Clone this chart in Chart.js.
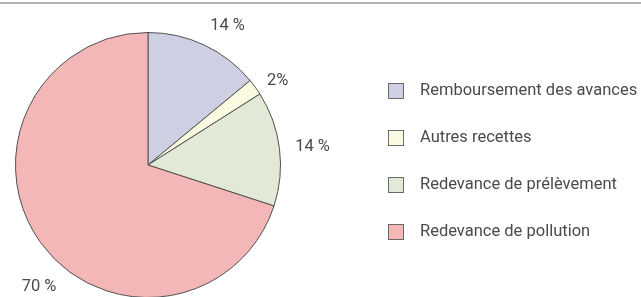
<!DOCTYPE html>
<html>
<head>
<meta charset="utf-8">
<script src="https://cdn.jsdelivr.net/npm/chart.js@4"></script>
<style>
  html, body { margin: 0; padding: 0; background: #fff; overflow: hidden; width: 641px; height: 297px; }
  #wrap { position: absolute; left: 0; top: 0; width: 641px; height: 300px; }
</style>
</head>
<body>
<div id="wrap"><canvas id="c"></canvas></div>
<script>
const categories = ["Remboursement des avances", "Autres recettes", "Redevance de prélèvement", "Redevance de pollution"];
const shares = [14, 2, 14, 70];
const valueLabels = ["14 %", "2%", "14 %", "70 %"];

const sliceColors = ["#cfcfe4", "#fbfbe2", "#e2e9d7", "#f4b7b7"];
const labelPlacement = [
  { dAngle: 4.5, dist: 28 },
  { dAngle: 3.1, dist: 22 },
  { dAngle: 1.0, dist: 33 },
  { dAngle: -12.2, dist: 31 }
];
const FONT = "Roboto, 'Liberation Sans', sans-serif";

const topRule = {
  id: 'topRule',
  beforeDraw(chart) {
    const ctx = chart.ctx;
    ctx.save();
    ctx.strokeStyle = '#9a9a9a';
    ctx.lineWidth = 1.5;
    ctx.beginPath();
    ctx.moveTo(0, 3);
    ctx.lineTo(chart.width, 3);
    ctx.stroke();
    ctx.restore();
  }
};

const sliceLabels = {
  id: 'sliceLabels',
  afterDatasetsDraw(chart) {
    const ctx = chart.ctx;
    const meta = chart.getDatasetMeta(0);
    ctx.save();
    ctx.fillStyle = '#4a4a4a';
    ctx.font = "16.5px " + FONT;
    ctx.textAlign = 'center';
    ctx.textBaseline = 'middle';
    meta.data.forEach((arc, i) => {
      const p = arc.getProps(['x', 'y', 'startAngle', 'endAngle', 'outerRadius'], true);
      const pl = labelPlacement[i];
      const a = (p.startAngle + p.endAngle) / 2 + pl.dAngle * Math.PI / 180;
      const r = p.outerRadius + pl.dist;
      ctx.fillText(valueLabels[i], p.x + r * Math.cos(a), p.y + r * Math.sin(a));
    });
    ctx.restore();
  }
};

const sideLegend = {
  id: 'sideLegend',
  afterDraw(chart) {
    const ctx = chart.ctx;
    const labels = chart.data.labels;
    const colors = chart.data.datasets[0].backgroundColor;
    ctx.save();
    ctx.font = "16.5px " + FONT;
    ctx.textBaseline = 'middle';
    ctx.textAlign = 'left';
    labels.forEach((lab, i) => {
      const cy = 91 + i * 47;
      ctx.fillStyle = colors[i];
      ctx.fillRect(388.5, cy - 7.5, 15, 15);
      ctx.strokeStyle = '#6a6a6a';
      ctx.lineWidth = 1;
      ctx.strokeRect(388.5, cy - 7.5, 15, 15);
      ctx.fillStyle = '#4a4a4a';
      ctx.fillText(lab, 420, cy);
    });
    ctx.restore();
  }
};

new Chart(document.getElementById('c'), {
  type: 'pie',
  data: {
    labels: categories,
    datasets: [{
      data: shares,
      backgroundColor: sliceColors,
      borderColor: '#505050',
      borderWidth: 1
    }]
  },
  options: {
    responsive: true,
    maintainAspectRatio: false,
    animation: false,
    layout: { padding: { left: 15, right: 360, top: 32, bottom: 2 } },
    plugins: {
      legend: { display: false },
      tooltip: { enabled: false }
    }
  },
  plugins: [topRule, sliceLabels, sideLegend]
});
</script>
</body>
</html>
